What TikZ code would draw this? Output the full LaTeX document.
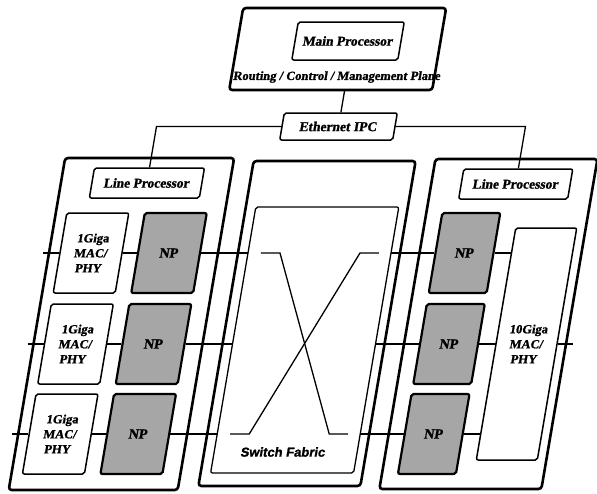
\documentclass[tikz,border=0pt]{standalone}
\usepackage{fontspec}
\setmainfont{Liberation Serif}[BoldFeatures={FakeBold=1.2}]
\newfontfamily\sfheavy{Liberation Sans}[BoldFeatures={FakeBold=1.2}]
\usepackage{tikz}

\begin{document}
\begin{tikzpicture}[
  x=1pt, y=-1pt,
  card/.style={rectangle, rounded corners=3pt, draw=black, line width=2.6pt, fill=white},
  box/.style={rectangle, rounded corners=2pt, draw=black, line width=1.5pt, fill=white, align=center,
              inner sep=0pt, font=\fontsize{13.5}{15}\selectfont\bfseries},
  np/.style={box, fill=black!35, line width=2.2pt, font=\fontsize{14}{15}\selectfont\bfseries},
  lbl/.style={inner sep=0pt, align=center},
  wire/.style={draw=black, line width=1.3pt}
]
\useasboundingbox (0,0) rectangle (597,493);
\begin{scope}[xslant=0.17, every node/.append style={transform shape}]
% control plane
\node[card, minimum width=203pt, minimum height=82pt] (mainbox) at (346,49) {};
\node[box, minimum width=106pt, minimum height=38pt] (mainproc) at (355,41) {Main Processor};
\node[lbl, font=\fontsize{12.5}{14}\selectfont\bfseries] (plane) at (350,77) {Routing / Control / Management Plane};
\node[box, minimum width=113pt, minimum height=27pt] (ipc) at (360,126.5) {Ethernet IPC};
\coordinate (mainout) at (360,90);
\draw[wire] (mainout) -- (ipc.north);

% line cards and switch fabric
\node[card, minimum width=169pt, minimum height=332pt] (cardL) at (176.5,324) {};
\node[card, minimum width=162pt, minimum height=325pt] (sfout) at (362,323.5) {};
\node[card, minimum width=162pt, minimum height=330pt] (cardR) at (543.5,324) {};
\node[box, line width=1.3pt, minimum width=143pt, minimum height=266pt] (sfin) at (362.5,340) {};
\node[lbl, font=\sfheavy\bfseries\fontsize{13}{15}\selectfont] (sflabel) at (360,452) {Switch Fabric};

\node[box, minimum width=110pt, minimum height=30pt] (lpL) at (178,183) {Line Processor};
\node[box, minimum width=109pt, minimum height=30pt] (lpR) at (547,184) {Line Processor};
\node[box, minimum width=61pt, minimum height=232pt, font=\fontsize{12.5}{15}\selectfont\bfseries] (tg) at (585,344) {10Giga\\MAC/\\PHY};

\coordinate (ipcL) at (178,126.5);
\coordinate (ipcR) at (547,126.5);
\draw[wire] (ipc.west) -- (ipcL) -- (lpL.north);
\draw[wire] (ipc.east) -- (ipcR) -- (lpR.north);

\foreach \r/\y in {1/253, 2/344, 3/434} {
  \node[box, minimum width=62pt, minimum height=80pt, font=\fontsize{12.5}{15}\selectfont\bfseries] (mac\r) at (134,\y) {1Giga\\MAC/\\PHY};
  \node[np, minimum width=62pt, minimum height=80pt] (npL\r) at (212,\y) {NP};
  \node[np, minimum width=58pt, minimum height=80pt] (npR\r) at (507.5,\y) {NP};
  \coordinate (inL\r) at (86,\y);
  \coordinate (sfL\r) at (291,\y);
  \coordinate (sfR\r) at (434,\y);
  \coordinate (tgL\r) at (554.5,\y);
  \draw[wire] (inL\r) -- (mac\r.west);
  \draw[wire] (mac\r.east) -- (npL\r.west);
  \draw[wire] (npL\r.east) -- (sfL\r);
  \draw[wire] (sfR\r) -- (npR\r.west);
  \draw[wire] (npR\r.east) -- (tgL\r);
}
\coordinate (tgout) at (631,344);
\draw[wire] (tg.east) -- (tgout);

% crossbar
\draw[wire] (304,253) -- (323,253) -- (403,434) -- (422,434);
\draw[wire] (304,434) -- (323,434) -- (403,253) -- (422,253);
\end{scope}
\end{tikzpicture}
\end{document}
